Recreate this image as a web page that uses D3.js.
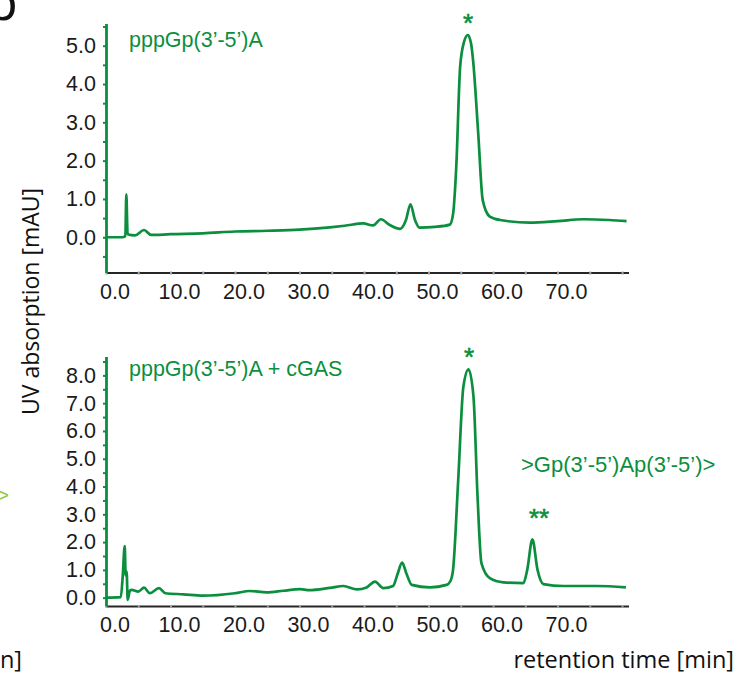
<!DOCTYPE html>
<html>
<head>
<meta charset="utf-8">
<script src="https://cdn.jsdelivr.net/npm/d3@7"></script>
<style>
  body { margin: 0; background: #fff; }
  svg { display: block; }
</style>
</head>
<body>
<div id="chart"></div>
<script>
// retention time [min] and UV absorption [mAU]
var timeTop = [0, 2.5, 3.0, 3.15, 3.35, 4.5, 5.9, 7, 10, 15, 20, 25, 30, 34.7, 37, 39.9, 41.4, 42.6, 44, 45.6,
    46.5, 47.2, 47.9, 48.6, 51, 53.3, 53.8, 54.3, 54.9, 55.5, 56.1, 56.6, 56.9, 57.7, 58.4, 59.5, 61.1,
    65.7, 70, 74, 78, 80.7];
var absTop = [0, 0, 0.03, 1.12, 0.08, 0.05, 0.19, 0.06, 0.08, 0.1, 0.15, 0.17, 0.2, 0.26, 0.3, 0.36, 0.31, 0.47, 0.32, 0.22,
    0.45, 0.86, 0.45, 0.25, 0.27, 0.33, 0.6, 1.84, 4.45, 5.1, 5.28, 5.05, 4.63, 2.72, 0.97, 0.54, 0.45,
    0.38, 0.42, 0.47, 0.45, 0.42];

var timeBottom = [0, 2.3, 2.6, 2.9, 3.05, 3.2, 3.36, 3.7, 4.0, 5.0, 5.9, 6.8, 8.2, 9.2, 12, 15, 20, 22.3, 24.9, 27.5,
    30.1, 31.5, 34.7, 36.8, 38.9, 40.4, 41.7, 43, 44.5, 45.2, 45.9, 46.6, 47.4, 50.2, 52.8, 53.4, 53.8,
    54.6, 55.4, 56.2, 56.97, 57.6, 58.2, 59.5, 61.6, 64.7, 65.3, 66.1, 66.9, 67.8, 70.9, 76.1, 80.6];
var absBottom = [0, 0.02, 0.8, 1.86, 0.8, 0.94, -0.08, 0.25, 0.28, 0.22, 0.36, 0.16, 0.34, 0.16, 0.12, 0.07, 0.16, 0.24, 0.19, 0.25,
    0.31, 0.27, 0.35, 0.42, 0.3, 0.37, 0.58, 0.34, 0.42, 0.85, 1.26, 0.85, 0.46, 0.37, 0.46, 0.6, 1.0,
    4.23, 7.59, 8.22, 7.23, 3.63, 1.24, 0.7, 0.55, 0.52, 1.0, 2.1, 1.0, 0.49, 0.42, 0.42, 0.37];

var xTickLabels = [0, 10, 20, 30, 40, 50, 60, 70];
var yTickLabelsTop = [0, 1, 2, 3, 4, 5];
var yTickLabelsBottom = [0, 1, 2, 3, 4, 5, 6, 7, 8];

var green = "#0b8f3e";
var sans = "Liberation Sans, Arial, sans-serif";
var w = 754, h = 678;

var svg = d3.select("#chart").append("svg")
    .attr("width", w)
    .attr("height", h);

svg.append("rect").attr("width", w).attr("height", h).attr("fill", "#fff");

var x = d3.scaleLinear().domain([0, 81]).range([106, 628.5]);

var line = d3.line().curve(d3.curveMonotoneX);

function drawPanel(opts) {
    var y = d3.scaleLinear().domain(opts.yDomain).range([opts.bottom, opts.top]);
    var g = svg.append("g");

    // x axis: ticks every 5 min, labels every 10
    var xt = d3.range(0, 81, 5);
    var xa = g.append("g")
        .attr("transform", "translate(0," + opts.bottom + ")")
        .call(d3.axisBottom(x).tickValues(xt).tickSize(3).tickSizeOuter(0).tickPadding(8)
            .tickFormat(function (d) { return xTickLabels.indexOf(d) >= 0 ? d.toFixed(1) : ""; }));
    xa.select(".domain").attr("stroke", "#262626").attr("stroke-width", 2.2);
    xa.selectAll(".tick line").attr("stroke", "#a0a0a0").attr("stroke-width", 2).attr("y1", -1).attr("y2", 2);
    xa.selectAll(".tick text")
        .attr("dx", 8.5)
        .attr("fill", "#1a1a1a")
        .style("font-family", sans)
        .style("font-size", "21.5px");

    // y axis: ticks every 0.5
    var yt = d3.range(opts.yMinTick, opts.yMaxTick + 0.01, 0.5);
    var ya = g.append("g")
        .attr("transform", "translate(106,0)")
        .call(d3.axisLeft(y).tickValues(yt).tickSize(3).tickSizeOuter(0).tickPadding(7)
            .tickFormat(function (d) { return opts.yLabels.indexOf(d) >= 0 ? d.toFixed(1) : ""; }));
    ya.select(".domain").attr("stroke", green).attr("stroke-width", 2.8);
    ya.selectAll(".tick line").attr("stroke", green).attr("stroke-width", 2).attr("x2", -3).attr("x1", 1);
    ya.selectAll(".tick text")
        .attr("fill", "#1a1a1a")
        .style("font-family", sans)
        .style("font-size", "21.5px");

    // trace
    var pts = opts.t.map(function (t, i) { return [x(t), y(opts.v[i])]; });
    g.append("path")
        .attr("d", line(pts))
        .attr("fill", "none")
        .attr("stroke", green)
        .attr("stroke-width", 2.7)
        .attr("stroke-linejoin", "round");

    g.append("text")
        .attr("x", 129).attr("y", opts.titleY)
        .attr("fill", green)
        .style("font-family", sans)
        .style("font-size", "21.5px")
        .text(opts.title);
    return g;
}

drawPanel({
    top: 23.5, bottom: 272.5, yDomain: [-0.92, 5.58], yMinTick: -0.5, yMaxTick: 5.5,
    yLabels: yTickLabelsTop, t: timeTop, v: absTop,
    title: "pppGp(3\u2019-5\u2019)A", titleY: 47
});

drawPanel({
    top: 356.5, bottom: 606, yDomain: [-0.3, 8.68], yMinTick: 0, yMaxTick: 8.5,
    yLabels: yTickLabelsBottom, t: timeBottom, v: absBottom,
    title: "pppGp(3\u2019-5\u2019)A + cGAS", titleY: 376
});

// peak marks
var ann = [
    { x: 468, y: 32, s: "*" },
    { x: 469, y: 366, s: "*" },
    { x: 539, y: 527, s: "**" }
];
svg.selectAll("text.star").data(ann).enter().append("text")
    .attr("class", "star")
    .attr("x", function (d) { return d.x; })
    .attr("y", function (d) { return d.y; })
    .attr("text-anchor", "middle")
    .attr("fill", green)
    .attr("stroke", green)
    .attr("stroke-width", 0.6)
    .style("font-family", sans)
    .style("font-size", "26px")
    .text(function (d) { return d.s; });

svg.append("text")
    .attr("x", 521).attr("y", 472)
    .attr("fill", green)
    .style("font-family", sans)
    .style("font-size", "22px")
    .text(">Gp(3\u2019-5\u2019)Ap(3\u2019-5\u2019)>");

// axis titles
svg.append("text")
    .attr("transform", "translate(38.5,301.5) rotate(-90)")
    .attr("text-anchor", "middle")
    .attr("fill", "#111")
    .style("font-family", "Open Sans, sans-serif")
    .style("font-size", "23px")
    .text("UV absorption [mAU]");

svg.append("text")
    .attr("x", 734).attr("y", 668)
    .attr("text-anchor", "end")
    .attr("fill", "#111")
    .style("font-family", "Open Sans, sans-serif")
    .style("font-size", "23.5px")
    .text("retention time [min]");

// bits of neighbouring panels cut off at the edges
svg.append("text")
    .attr("x", -14).attr("y", 20)
    .attr("fill", "#111")
    .style("font-family", "Open Sans, sans-serif")
    .style("font-size", "52px")
    .text("b");

svg.append("text")
    .attr("x", 9).attr("y", 502)
    .attr("text-anchor", "end")
    .attr("fill", "#8dc63f")
    .style("font-family", sans)
    .style("font-size", "20px")
    .text(">");

svg.append("text")
    .attr("x", 22).attr("y", 668)
    .attr("text-anchor", "end")
    .attr("fill", "#111")
    .style("font-family", "Open Sans, sans-serif")
    .style("font-size", "23.5px")
    .text("n]");
</script>
</body>
</html>
